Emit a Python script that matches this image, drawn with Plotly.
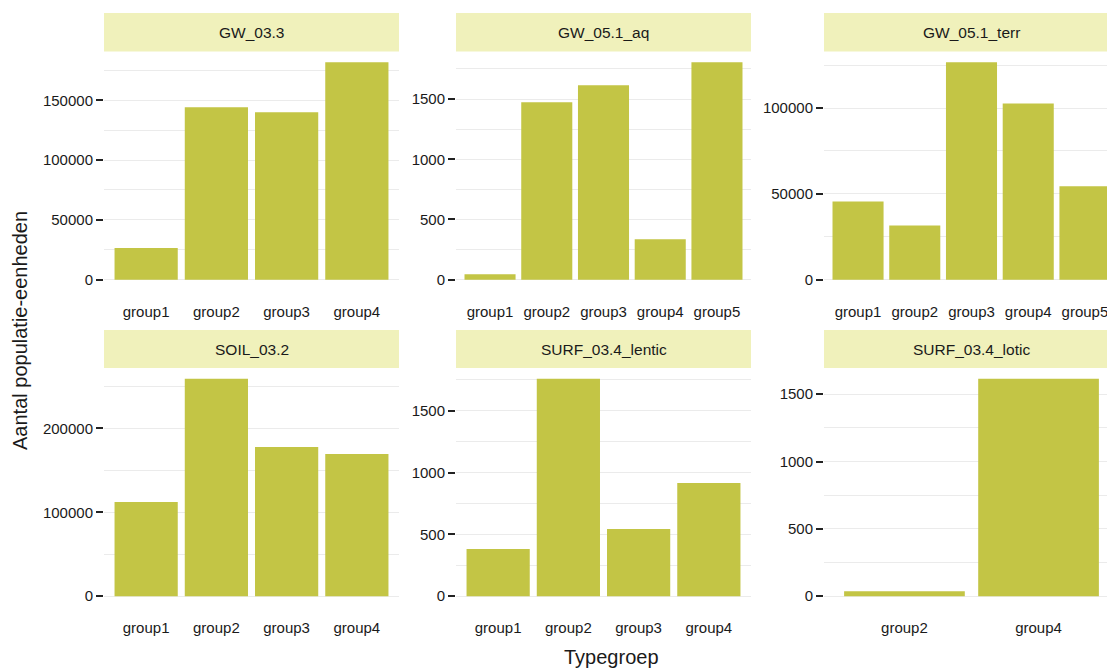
import plotly.graph_objects as go

# ---------------- data ----------------
panel_names = ["GW_03.3", "GW_05.1_aq", "GW_05.1_terr",
               "SOIL_03.2", "SURF_03.4_lentic", "SURF_03.4_lotic"]

gw_03_3_groups = ["group1", "group2", "group3", "group4"]
gw_03_3_values = [26400, 144200, 140000, 181700]

gw_05_1_aq_groups = ["group1", "group2", "group3", "group4", "group5"]
gw_05_1_aq_values = [44, 1473, 1614, 335, 1805]

gw_05_1_terr_groups = ["group1", "group2", "group3", "group4", "group5"]
gw_05_1_terr_values = [45600, 31600, 126600, 102700, 54400]

soil_03_2_groups = ["group1", "group2", "group3", "group4"]
soil_03_2_values = [112200, 259000, 177800, 169500]

surf_lentic_groups = ["group1", "group2", "group3", "group4"]
surf_lentic_values = [381, 1759, 543, 916]

surf_lotic_groups = ["group2", "group4"]
surf_lotic_values = [37, 1614]

major_steps = [50000, 500, 50000, 100000, 500, 500]

x_title = "Typegroep"
y_title = "Aantal populatie-eenheden"

# ---------------- layout constants (pixels) ----------------
W, H = 1107, 668
col_x0 = [104, 456, 824]
panel_w = 295
row_top = [51.5, 368]
row_bot = [290.5, 607]
strip_top = [13, 330]

BAR = "#c3c545"
STRIP = "#f0f1bb"
GRID = "#ebebeb"
TXT = "#1a1a1a"
FONT = "Liberation Sans"

groups_list = [gw_03_3_groups, gw_05_1_aq_groups, gw_05_1_terr_groups,
               soil_03_2_groups, surf_lentic_groups, surf_lotic_groups]
values_list = [gw_03_3_values, gw_05_1_aq_values, gw_05_1_terr_values,
               soil_03_2_values, surf_lentic_values, surf_lotic_values]

fig = go.Figure()
layout = dict(
    width=W, height=H,
    margin=dict(l=0, r=0, t=0, b=0),
    paper_bgcolor="white", plot_bgcolor="white",
    showlegend=False,
    font=dict(family=FONT, color=TXT, size=15),
    shapes=[], annotations=[],
)

for i in range(6):
    r, c = divmod(i, 3)
    ax = "" if i == 0 else str(i + 1)
    groups = groups_list[i]
    vals = values_list[i]
    n = len(groups)

    x0 = col_x0[c]
    x1_full = x0 + panel_w
    x1 = min(x1_full, W)
    px_per_unit = panel_w / (n - 1 + 1.2)
    xmax = -0.6 + (x1 - x0) / px_per_unit

    fig.add_trace(go.Bar(
        x=groups, y=vals, width=0.9,
        marker=dict(color=BAR, line=dict(width=0)),
        xaxis="x" + ax, yaxis="y" + ax,
        hoverinfo="x+y",
    ))

    vmax = max(vals)
    pad = 0.05 * vmax
    step = major_steps[i]

    layout["xaxis" + ax] = dict(
        domain=[x0 / W, x1 / W],
        anchor="y" + ax,
        type="category",
        categoryorder="array", categoryarray=groups,
        range=[-0.6, xmax],
        showgrid=False, zeroline=False, showline=False,
        ticks="outside", ticklen=7, tickcolor="rgba(0,0,0,0)",
        tickfont=dict(size=15, color=TXT, family=FONT),
        fixedrange=True,
    )
    layout["yaxis" + ax] = dict(
        domain=[1 - row_bot[r] / H, 1 - row_top[r] / H],
        anchor="x" + ax,
        range=[-pad, vmax + pad],
        tickmode="linear", tick0=0, dtick=step,
        tickformat="d",
        showgrid=True, gridcolor=GRID, gridwidth=1.1,
        zeroline=False, showline=False,
        ticks="outside", ticklen=7, tickwidth=1.6, tickcolor="#222222",
        tickfont=dict(size=15, color=TXT, family=FONT),
        minor=dict(dtick=step / 2, tick0=0, showgrid=True,
                   gridcolor=GRID, gridwidth=0.55, ticks=""),
        fixedrange=True,
    )

    # facet strip
    layout["shapes"].append(dict(
        type="rect", xref="paper", yref="paper",
        x0=x0 / W, x1=x1 / W,
        y0=1 - row_top[r] / H, y1=1 - strip_top[r] / H,
        fillcolor=STRIP, line=dict(width=0), layer="below",
    ))
    layout["annotations"].append(dict(
        text=panel_names[i], xref="paper", yref="paper",
        x=(x0 + panel_w / 2) / W, y=1 - (strip_top[r] + row_top[r]) / 2 / H,
        xanchor="center", yanchor="middle", showarrow=False,
        font=dict(size=15.5, color=TXT, family=FONT),
    ))

# axis titles
layout["annotations"].append(dict(
    text=x_title, xref="paper", yref="paper",
    x=611 / W, y=1 - 657 / H, xanchor="center", yanchor="middle",
    showarrow=False, font=dict(size=20, color=TXT, family=FONT),
))
layout["annotations"].append(dict(
    text=y_title, xref="paper", yref="paper",
    x=20 / W, y=1 - 331 / H, xanchor="center", yanchor="middle",
    textangle=-90, showarrow=False, font=dict(size=20, color=TXT, family=FONT),
))

fig.update_layout(**layout)
fig.write_html("out.html")
